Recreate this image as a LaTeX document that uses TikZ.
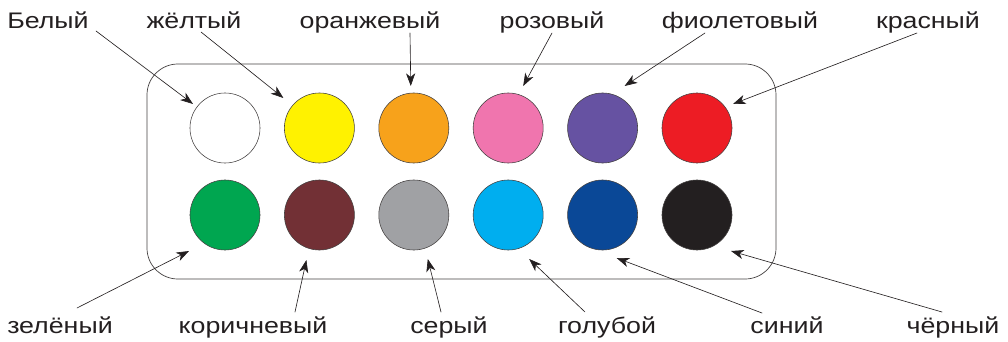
\documentclass[tikz,border=0pt]{standalone}
\usepackage{fontspec}
\setmainfont{Liberation Sans}[FakeStretch=1.19]
\usetikzlibrary{arrows.meta,calc}
\definecolor{pYellow}{HTML}{FFF200}
\definecolor{pOrange}{HTML}{F7A21B}
\definecolor{pPink}{HTML}{F075AE}
\definecolor{pViolet}{HTML}{6652A2}
\definecolor{pRed}{HTML}{ED1C24}
\definecolor{pGreen}{HTML}{00A650}
\definecolor{pBrown}{HTML}{723035}
\definecolor{pGray}{HTML}{A0A1A4}
\definecolor{pCyan}{HTML}{00AEEF}
\definecolor{pBlue}{HTML}{0A4897}
\definecolor{pBlack}{HTML}{231F20}
\begin{document}
\begin{tikzpicture}[x=0.025cm,y=-0.025cm,line cap=round,line join=round,
  paint/.style={circle,draw=pBlack!85,line width=0.4pt,inner sep=0pt,minimum size=49.8pt},
  lbl/.style={font=\fontsize{16}{19}\selectfont,text=pBlack,inner sep=0pt,anchor=base},
  arr/.style={line width=0.45pt,draw=pBlack,-{Stealth[length=9pt,width=6.5pt,inset=2.6pt]}}]
  \useasboundingbox (0,0) rectangle (1008,342);
  % 盒子
  \draw[line width=0.5pt,draw=pBlack!85,rounded corners=22pt] (147,64) rectangle (776,279);
  % 两排颜料
  \foreach \n/\col [count=\i from 0] in {wh/white,ye/pYellow,or/pOrange,pk/pPink,vi/pViolet,rd/pRed}
    \node[paint,fill=\col] (\n) at (225+\i*94.4,128) {};
  \foreach \n/\col [count=\i from 0] in {gr/pGreen,br/pBrown,gy/pGray,cy/pCyan,bl/pBlue,bk/pBlack}
    \node[paint,fill=\col] (\n) at (225+\i*94.4,215) {};
  % 上排标签
  \node[lbl] (lwh) at (48,28) {Белый};
  \node[lbl] (lye) at (194,28) {жёлтый};
  \node[lbl] (lor) at (370,28) {оранжевый};
  \node[lbl] (lpk) at (552,28) {розовый};
  \node[lbl] (lvi) at (740,28) {фиолетовый};
  \node[lbl] (lrd) at (928,28) {красный};
  \draw[arr] ($(lwh.base)+(48,3)$) -- ($(wh)+(-32,-24)$);
  \draw[arr] ($(lye.base)+(7,4)$) -- ($(ye)+(-36,-30)$);
  \draw[arr] ($(lor.base)+(40,5)$) -- ($(or)+(-3,-42)$);
  \draw[arr] ($(lpk.base)+(0,5)$) -- ($(pk)+(15,-42)$);
  \draw[arr] ($(lvi.base)+(-35,5)$) -- ($(vi)+(22,-42)$);
  \draw[arr] ($(lrd.base)+(-11,5)$) -- ($(rd)+(36,-24)$);
  % 下排标签
  \node[lbl] (lgr) at (60,333) {зелёный};
  \node[lbl] (lbr) at (253,333) {коричневый};
  \node[lbl] (lgy) at (449,333) {серый};
  \node[lbl] (lcy) at (607,333) {голубой};
  \node[lbl] (lbl) at (787,333) {синий};
  \node[lbl] (lbk) at (953,333) {чёрный};
  \draw[arr] ($(lgr.base)+(17,-25)$) -- ($(gr)+(-36,36)$);
  \draw[arr] ($(lbr.base)+(42,-21)$) -- ($(br)+(-13,45)$);
  \draw[arr] ($(lgy.base)+(-8,-21)$) -- ($(gy)+(14,44)$);
  \draw[arr] ($(lcy.base)+(-22,-21)$) -- ($(cy)+(21,44)$);
  \draw[arr] ($(lbl.base)+(-25,-20)$) -- ($(bl)+(14,43)$);
  \draw[arr] ($(lbk.base)+(-11,-21)$) -- ($(bk)+(34,36)$);
\end{tikzpicture}
\end{document}
